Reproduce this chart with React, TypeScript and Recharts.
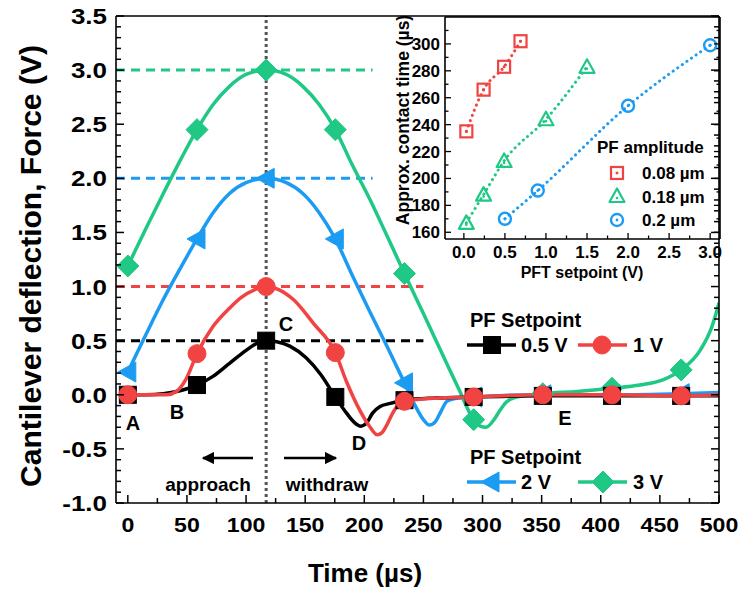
import React from 'react';
import { LineChart, Line, XAxis, YAxis } from 'recharts';

const FONT = '"Liberation Sans", Arial, Helvetica, sans-serif';
const RED = '#f24343';
const GREEN = '#1fc884';
const BLUE = '#1b9cf2';
const BLACK = '#000000';

// ---------- main chart data (time in µs, force in V) ----------
const markerTimes = [0, 58.5, 117, 175.5, 234, 292.5, 351, 409.5, 468];

const curve05V: [number, number][] = [
  [0, 0], [15, 0], [30, 0.01], [45, 0.04], [58.5, 0.09], [72, 0.17], [86, 0.29], [100, 0.41],
  [110, 0.48], [117, 0.5], [126, 0.49], [137, 0.45], [151, 0.34], [163, 0.19], [175.5, -0.02],
  [185, -0.17], [192, -0.26], [197, -0.29], [202, -0.26], [207, -0.17], [213, -0.11], [222, -0.08],
  [234, -0.05], [260, -0.03], [292.5, -0.02], [351, -0.01], [409.5, -0.01], [468, -0.01], [500, -0.01],
];

const curve1V: [number, number][] = [
  [0, 0], [20, 0], [33, 0], [41, 0.03], [49, 0.14], [58.5, 0.38], [72, 0.63], [86, 0.8], [96, 0.9],
  [107, 0.97], [117, 1.0], [128, 0.97], [140, 0.88], [157, 0.66], [175.5, 0.39], [185, 0.12],
  [196, -0.14], [205, -0.3], [211, -0.37], [215, -0.35], [219, -0.28], [224, -0.17], [230, -0.08],
  [234, -0.06], [264, -0.03], [292.5, -0.02], [351, 0], [409.5, 0], [468, -0.01], [500, 0],
];

const curve2V: [number, number][] = [
  [0, 0.21], [15, 0.55], [30, 0.88], [45, 1.18], [58.5, 1.44], [72, 1.68], [86, 1.86], [100, 1.96],
  [117, 2.0], [134, 1.96], [148, 1.86], [162, 1.68], [175.5, 1.44], [190, 1.1], [205, 0.76],
  [220, 0.43], [234, 0.11], [243, -0.1], [250, -0.23], [255, -0.28], [260, -0.25], [265, -0.15],
  [270, -0.06], [280, -0.03], [292.5, -0.02], [351, 0], [409.5, 0], [468, 0.01], [500, 0.02],
];

const curve3V: [number, number][] = [
  [0, 1.19], [15, 1.53], [30, 1.86], [45, 2.18], [58.5, 2.45], [72, 2.68], [86, 2.85], [100, 2.96],
  [117, 3.0], [134, 2.96], [148, 2.85], [162, 2.68], [175.5, 2.45], [190, 2.12], [205, 1.8],
  [220, 1.45], [234, 1.12], [250, 0.75], [265, 0.4], [280, 0.05], [292.5, -0.23], [298, -0.29],
  [303, -0.3], [309, -0.24], [315, -0.14], [320, -0.07], [326, -0.03], [351, 0.01], [380, 0.03],
  [409.5, 0.06], [433, 0.09], [453, 0.14], [468, 0.23], [484, 0.41], [494, 0.63], [500, 0.85],
];

// setpoint guide lines: [time, level]
const guide05V: [number, number][] = [[-10, 0.5], [250, 0.5]];
const guide1V: [number, number][] = [[-10, 1.0], [250, 1.0]];
const guide2V: [number, number][] = [[-10, 2.0], [207, 2.0]];
const guide3V: [number, number][] = [[-10, 3.0], [207, 3.0]];
const contactMidline: [number, number][] = [[117, -1], [117, 3.5]];

const xMajorTicks = [0, 50, 100, 150, 200, 250, 300, 350, 400, 450, 500];
const xAllTicks = [0, 25, 50, 75, 100, 125, 150, 175, 200, 225, 250, 275, 300, 325, 350, 375, 400, 425, 450, 475, 500];
const yMajorTicks = [-1.0, -0.5, 0.0, 0.5, 1.0, 1.5, 2.0, 2.5, 3.0, 3.5];
const yAllTicks: number[] = [];
for (let i = -10; i <= 35; i++) yAllTicks.push(i / 10);

// ---------- inset data (PFT setpoint V vs approx. contact time µs) ----------
const inset008: [number, number][] = [[0.03, 235], [0.24, 266], [0.49, 283], [0.69, 302]];
const inset018: [number, number][] = [[0.03, 167], [0.24, 188], [0.49, 213], [1.0, 244], [1.5, 283]];
const inset02: [number, number][] = [[0.5, 170], [0.9, 191], [2.0, 254], [3.0, 299]];

const insetXMajor = [0, 0.5, 1.0, 1.5, 2.0, 2.5, 3.0];
const insetXAll = [0, 0.25, 0.5, 0.75, 1.0, 1.25, 1.5, 1.75, 2.0, 2.25, 2.5, 2.75, 3.0];
const insetYMajor = [160, 180, 200, 220, 240, 260, 280, 300];
const insetYAll = [160, 170, 180, 190, 200, 210, 220, 230, 240, 250, 260, 270, 280, 290, 300, 310];

const toXY = (arr: [number, number][]) => arr.map(([x, y]) => ({ x, y }));

const near = (a: number, list: number[]) => list.some((v) => Math.abs(v - a) < 1e-6);

// ---------- tick renderers ----------
const makeTick = (side: string, majors: number[], fmt: (v: number) => string, opts: any) => (props: any) => {
  const { x, y, payload, index } = props;
  const v = payload.value;
  const major = near(v, majors);
  const len = major ? opts.major : opts.minor;
  let line;
  let label = null;
  if (side === 'bottom') {
    line = <line x1={x} x2={x} y1={y} y2={y - len} stroke="#000" strokeWidth={opts.sw} />;
    if (major && opts.labels)
      label = (
        <text x={0} y={0} transform={`translate(${x},${y + opts.dy}) scale(${opts.sxX},1)`} textAnchor="middle"
          fontFamily={FONT} fontWeight="bold" fontSize={opts.fsX} fill="#000">
          {fmt(v)}
        </text>
      );
  } else if (side === 'top') {
    line = <line x1={x} x2={x} y1={y} y2={y + len} stroke="#000" strokeWidth={opts.sw} />;
  } else if (side === 'left') {
    line = <line x1={x} x2={x + len} y1={y} y2={y} stroke="#000" strokeWidth={opts.sw} />;
    if (major && opts.labels)
      label = (
        <text x={0} y={0} transform={`translate(${x - opts.dx},${y + opts.dyl}) scale(${opts.sxY},1)`} textAnchor="end"
          fontFamily={FONT} fontWeight="bold" fontSize={opts.fsY} fill="#000">
          {fmt(v)}
        </text>
      );
  } else {
    line = <line x1={x} x2={x - len} y1={y} y2={y} stroke="#000" strokeWidth={opts.sw} />;
  }
  return (
    <g key={`t-${side}-${index}`}>
      {line}
      {label}
    </g>
  );
};

// ---------- marker shapes ----------
const Marker = ({ shape, cx, cy, color, hollow }: any) => {
  if (shape === 'square') {
    const s = hollow ? 6 : 8.5;
    return (
      <g>
        <rect x={cx - s} y={cy - s} width={2 * s} height={2 * s} fill={hollow ? 'none' : color} stroke={color} strokeWidth={hollow ? 2.2 : 1} />
        {hollow && <rect x={cx - 1.3} y={cy - 1.3} width={2.6} height={2.6} fill={color} />}
      </g>
    );
  }
  if (shape === 'circle') {
    const r = hollow ? 6 : 9;
    return (
      <g>
        <circle cx={cx} cy={cy} r={r} fill={hollow ? 'none' : color} stroke={color} strokeWidth={hollow ? 2.4 : 1} />
        {hollow && <circle cx={cx} cy={cy} r={1.4} fill={color} />}
      </g>
    );
  }
  if (shape === 'triUp') {
    const s = 7.5;
    return (
      <g>
        <polygon points={`${cx},${cy - s} ${cx + s},${cy + s * 0.8} ${cx - s},${cy + s * 0.8}`} fill="none" stroke={color} strokeWidth={2.2} strokeLinejoin="round" />
        <circle cx={cx} cy={cy + 2} r={1.3} fill={color} />
      </g>
    );
  }
  if (shape === 'triLeft') {
    return <polygon points={`${cx - 10},${cy} ${cx + 8},${cy - 10} ${cx + 8},${cy + 10}`} fill={color} stroke={color} strokeWidth={1} strokeLinejoin="round" />;
  }
  const d = 11;
  return <polygon points={`${cx},${cy - d} ${cx + d},${cy} ${cx},${cy + d} ${cx - d},${cy}`} fill={color} stroke={color} strokeWidth={1} />;
};

const makeDot = (shape: string, color: string, onlyMarkers: boolean, hollow = false) => (props: any) => {
  const { cx, cy, payload, index } = props;
  if (cx == null || cy == null || (onlyMarkers && !near(payload.x, markerTimes))) return <g key={`d-${shape}-${index}`} />;
  return (
    <g key={`d-${shape}-${index}`}>
      <Marker shape={shape} cx={cx} cy={cy} color={color} hollow={hollow} />
    </g>
  );
};

const mainTickOpts = { major: 8, minor: 5, sw: 1.5, fsX: 21, fsY: 22, sxX: 1.1, sxY: 1.18, dy: 29, dx: 9, dyl: 8, labels: true };
const insetTickOpts = { major: 6, minor: 3.5, sw: 1.3, fsX: 17, fsY: 17, sxX: 1, sxY: 1, dy: 19, dx: 5, dyl: 6, labels: true };

const T = (props: any) => <text fontFamily={FONT} fontWeight="bold" fill="#000" {...props} />;

export default function App() {
  const axisLine = { stroke: '#000', strokeWidth: 1.6 };
  return (
    <div style={{ position: 'absolute', left: 0, top: 0, width: 740, height: 592, background: '#fff' }}>
      <div style={{ position: 'absolute', left: 0, top: 0 }}>
        <LineChart width={740} height={592} margin={{ top: 15, right: 20, bottom: 88, left: 115 }}>
          <XAxis dataKey="x" type="number" domain={[-10, 500]} ticks={xAllTicks} interval={0} allowDataOverflow
            tickSize={0} tickMargin={0} tickLine={false} axisLine={axisLine} height={1}
            tick={makeTick('bottom', xMajorTicks, (v) => String(v), mainTickOpts)} />
          <XAxis xAxisId="top" orientation="top" type="number" domain={[-10, 500]} ticks={xAllTicks} interval={0} allowDataOverflow
            tickSize={0} tickMargin={0} tickLine={false} axisLine={axisLine} height={1}
            tick={makeTick('top', xMajorTicks, (v) => String(v), mainTickOpts)} />
          <YAxis dataKey="y" type="number" domain={[-1, 3.5]} ticks={yAllTicks} interval={0} allowDataOverflow
            tickSize={0} tickMargin={0} tickLine={false} axisLine={axisLine} width={1}
            tick={makeTick('left', yMajorTicks, (v) => v.toFixed(1), mainTickOpts)} />
          <YAxis yAxisId="right" orientation="right" type="number" domain={[-1, 3.5]} ticks={yAllTicks} interval={0} allowDataOverflow
            tickSize={0} tickMargin={0} tickLine={false} axisLine={axisLine} width={1}
            tick={makeTick('right', yMajorTicks, (v) => v.toFixed(1), mainTickOpts)} />

          <Line data={toXY(guide3V)} dataKey="y" stroke={GREEN} strokeWidth={3} strokeDasharray="9 6" dot={false} isAnimationActive={false} />
          <Line data={toXY(guide2V)} dataKey="y" stroke={BLUE} strokeWidth={3} strokeDasharray="9 6" dot={false} isAnimationActive={false} />
          <Line data={toXY(guide1V)} dataKey="y" stroke={RED} strokeWidth={3} strokeDasharray="9 6" dot={false} isAnimationActive={false} />
          <Line data={toXY(guide05V)} dataKey="y" stroke={BLACK} strokeWidth={3} strokeDasharray="9 6" dot={false} isAnimationActive={false} />
          <Line data={toXY(contactMidline)} dataKey="y" stroke="#555" strokeWidth={3} strokeDasharray="3 3" dot={false} isAnimationActive={false} />

          <Line data={toXY(curve2V)} dataKey="y" type="monotone" stroke={BLUE} strokeWidth={3.5} dot={makeDot('triLeft', BLUE, true)} isAnimationActive={false} />
          <Line data={toXY(curve3V)} dataKey="y" type="monotone" stroke={GREEN} strokeWidth={3.5} dot={makeDot('diamond', GREEN, true)} isAnimationActive={false} />
          <Line data={toXY(curve05V)} dataKey="y" type="monotone" stroke={BLACK} strokeWidth={3.5} dot={makeDot('square', BLACK, true)} isAnimationActive={false} />
          <Line data={toXY(curve1V)} dataKey="y" type="monotone" stroke={RED} strokeWidth={3.5} dot={makeDot('circle', RED, true)} isAnimationActive={false} />
        </LineChart>
      </div>

      <div style={{ position: 'absolute', left: 0, top: 0 }}>
        <LineChart width={740} height={300} margin={{ top: 16, right: 19, bottom: 60, left: 444 }}>
          <XAxis dataKey="x" type="number" domain={[-0.23, 3.12]} ticks={insetXAll} interval={0} allowDataOverflow
            tickSize={0} tickMargin={0} tickLine={false} axisLine={axisLine} height={1}
            tick={makeTick('bottom', insetXMajor, (v) => v.toFixed(1), insetTickOpts)} />
          <XAxis xAxisId="top" orientation="top" type="number" domain={[-0.23, 3.12]} ticks={insetXAll} interval={0} allowDataOverflow
            tickSize={0} tickMargin={0} tickLine={false} axisLine={axisLine} height={1}
            tick={makeTick('top', insetXMajor, (v) => v.toFixed(1), insetTickOpts)} />
          <YAxis dataKey="y" type="number" domain={[155, 320]} ticks={insetYAll} interval={0} allowDataOverflow
            tickSize={0} tickMargin={0} tickLine={false} axisLine={axisLine} width={1}
            tick={makeTick('left', insetYMajor, (v) => String(v), insetTickOpts)} />
          <YAxis yAxisId="right" orientation="right" type="number" domain={[155, 320]} ticks={insetYAll} interval={0} allowDataOverflow
            tickSize={0} tickMargin={0} tickLine={false} axisLine={axisLine} width={1}
            tick={makeTick('right', insetYMajor, (v) => String(v), insetTickOpts)} />

          <Line data={toXY(inset008)} dataKey="y" type="monotone" stroke={RED} strokeWidth={3} strokeDasharray="0.1 5.5" strokeLinecap="round"
            dot={makeDot('square', RED, false, true)} isAnimationActive={false} />
          <Line data={toXY(inset018)} dataKey="y" type="monotone" stroke={GREEN} strokeWidth={3} strokeDasharray="0.1 5.5" strokeLinecap="round"
            dot={makeDot('triUp', GREEN, false, true)} isAnimationActive={false} />
          <Line data={toXY(inset02)} dataKey="y" type="monotone" stroke={BLUE} strokeWidth={3} strokeDasharray="0.1 5.5" strokeLinecap="round"
            dot={makeDot('circle', BLUE, false, true)} isAnimationActive={false} />
        </LineChart>
      </div>

      <svg width={740} height={592} style={{ position: 'absolute', left: 0, top: 0 }}>
        <defs>
          <marker id="ah" viewBox="0 0 10 10" refX="9" refY="5" markerWidth="5" markerHeight="5" orient="auto">
            <path d="M0,0 L10,5 L0,10 z" fill="#000" />
          </marker>
        </defs>
        <T x={0} y={0} fontSize={30} textAnchor="middle" transform="translate(41,266) rotate(-90)">Cantilever deflection, Force (V)</T>
        <T x={365} y={582} fontSize={26} textAnchor="middle">Time (µs)</T>

        <T x={133} y={430} fontSize={20} textAnchor="middle">A</T>
        <T x={177} y={419} fontSize={20} textAnchor="middle">B</T>
        <T x={286} y={331} fontSize={20} textAnchor="middle">C</T>
        <T x={359} y={450} fontSize={20} textAnchor="middle">D</T>
        <T x={565} y={425} fontSize={20} textAnchor="middle">E</T>

        <line x1={253} y1={458} x2={203} y2={458} stroke="#000" strokeWidth={2.5} markerEnd="url(#ah)" />
        <line x1={284} y1={458} x2={336} y2={458} stroke="#000" strokeWidth={2.5} markerEnd="url(#ah)" />
        <T x={208} y={491} fontSize={19} textAnchor="middle">approach</T>
        <T x={327} y={491} fontSize={19} textAnchor="middle">withdraw</T>

        <T x={470} y={327} fontSize={20}>PF Setpoint</T>
        <line x1={467} x2={516} y1={345} y2={345} stroke={BLACK} strokeWidth={3.5} />
        <Marker shape="square" cx={492} cy={345} color={BLACK} />
        <T x={521} y={352} fontSize={20}>0.5 V</T>
        <line x1={578} x2={627} y1={345} y2={345} stroke={RED} strokeWidth={3.5} />
        <Marker shape="circle" cx={602} cy={345} color={RED} />
        <T x={633} y={352} fontSize={20}>1 V</T>

        <T x={470} y={464} fontSize={20}>PF Setpoint</T>
        <line x1={467} x2={516} y1={482} y2={482} stroke={BLUE} strokeWidth={3.5} />
        <Marker shape="triLeft" cx={491} cy={482} color={BLUE} />
        <T x={521} y={489} fontSize={20}>2 V</T>
        <line x1={578} x2={627} y1={482} y2={482} stroke={GREEN} strokeWidth={3.5} />
        <Marker shape="diamond" cx={603} cy={482} color={GREEN} />
        <T x={633} y={489} fontSize={20}>3 V</T>

        <T x={0} y={0} fontSize={17.5} textAnchor="middle" transform="translate(409,120) rotate(-90)">Approx. contact time (µs)</T>
        <T x={582} y={278} fontSize={16} textAnchor="middle">PFT setpoint (V)</T>

        <T x={597} y={153} fontSize={17}>PF amplitude</T>
        <Marker shape="square" cx={617} cy={173} color={RED} hollow />
        <T x={642} y={179} fontSize={17}>0.08 µm</T>
        <Marker shape="triUp" cx={617} cy={196} color={GREEN} hollow />
        <T x={642} y={203} fontSize={17}>0.18 µm</T>
        <Marker shape="circle" cx={617} cy={220} color={BLUE} hollow />
        <T x={642} y={226} fontSize={17}>0.2 µm</T>
      </svg>
    </div>
  );
}
